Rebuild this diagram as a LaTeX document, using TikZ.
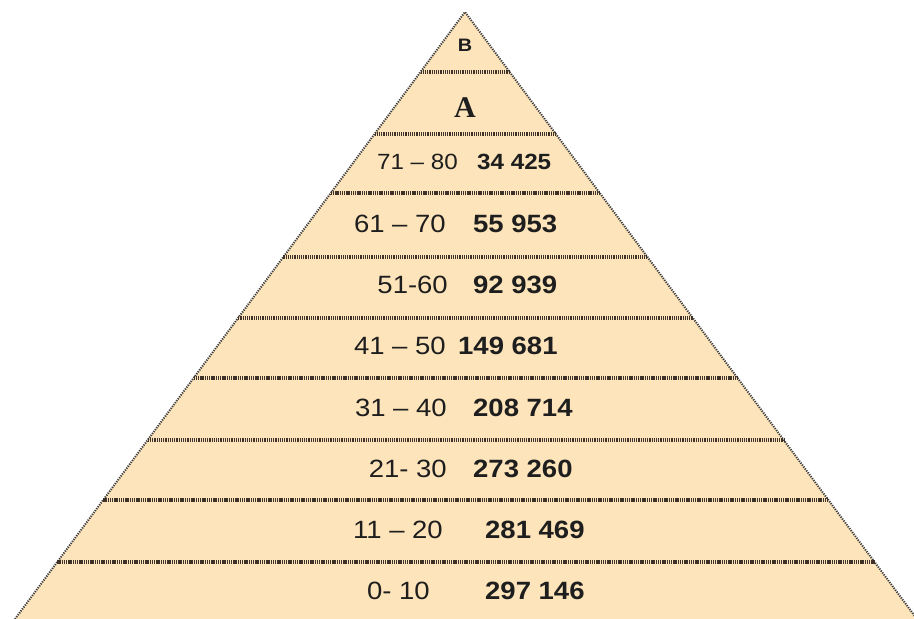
\documentclass[tikz,border=0pt]{standalone}
\usepackage{fontspec}
\setmainfont{Liberation Sans}[FakeStretch=1.1]
\newfontfamily\serifA{Liberation Serif}
\usetikzlibrary{positioning, calc}
\definecolor{sand}{HTML}{FDE4BA}
\definecolor{ink}{HTML}{1E1E1E}
\definecolor{rimgray}{HTML}{3C3C3C}
\definecolor{seamdk}{HTML}{3E3228}
\tikzset{
  age/.style={anchor=east, inner sep=0pt, text=ink, font=\fontsize{25}{28}\selectfont},
  cnt/.style={anchor=west, inner sep=0pt, text=ink, font=\fontsize{25}{28}\selectfont\bfseries},
  agesm/.style={age, font=\fontsize{22}{24}\selectfont},
  cntsm/.style={cnt, font=\fontsize{22}{24}\selectfont\bfseries},
  rim/.style={draw=rimgray, line width=2pt, dash pattern=on 1.2pt off 1.2pt},
  seam/.style={draw=seamdk, line width=3.2pt, dash pattern=on 1.3pt off 0.9pt},
}

\begin{document}
\begin{tikzpicture}[x=1pt, y=-1pt]
  \useasboundingbox (0,0) rectangle (914,619);
  \clip (0,0) rectangle (914,619);
  \coordinate (top) at (465,12);
  \coordinate (bl) at (15,619);
  \coordinate (br) at (917,619);
  \fill[sand] (top) -- (bl) -- (br) -- cycle;
  \draw[rim] (bl) -- (top) -- (br);
  % band separators
  \foreach \y in {72,134,193,257,318,378,440,500,562}{
    \pgfmathsetmacro\t{(\y-12)/607}
    \draw[seam] ($(top)!\t!(bl)$) -- ($(top)!\t!(br)$);
  }
  \node[inner sep=0pt, text=ink, font=\fontsize{18}{20}\selectfont\bfseries] (lb) at (465,45) {B};
  \node[inner sep=0pt, text=ink, font=\serifA\fontsize{30}{32}\selectfont\bfseries] (la) at (465,108) {A};
  \node[agesm] (a8) at (458,162) {71 – 80};
  \node[cntsm] (c8) at (477,162) {34 425};
  \node[age] (a7) at (446,224) {61 – 70};
  \node[cnt] (c7) at (473,224) {55 953};
  \node[age] (a6) at (448,285) {51-60};
  \node[cnt] (c6) at (473,285) {92 939};
  \node[age] (a5) at (446,346) {41 – 50};
  \node[cnt] (c5) at (458,346) {149 681};
  \node[age] (a4) at (447,408) {31 – 40};
  \node[cnt] (c4) at (473,408) {208 714};
  \node[age] (a3) at (447,469) {21- 30};
  \node[cnt] (c3) at (473,469) {273 260};
  \node[age] (a2) at (443,530) {11 – 20};
  \node[cnt] (c2) at (485,530) {281 469};
  \node[age] (a1) at (430,591) {0- 10};
  \node[cnt] (c1) at (485,591) {297 146};
\end{tikzpicture}
\end{document}
